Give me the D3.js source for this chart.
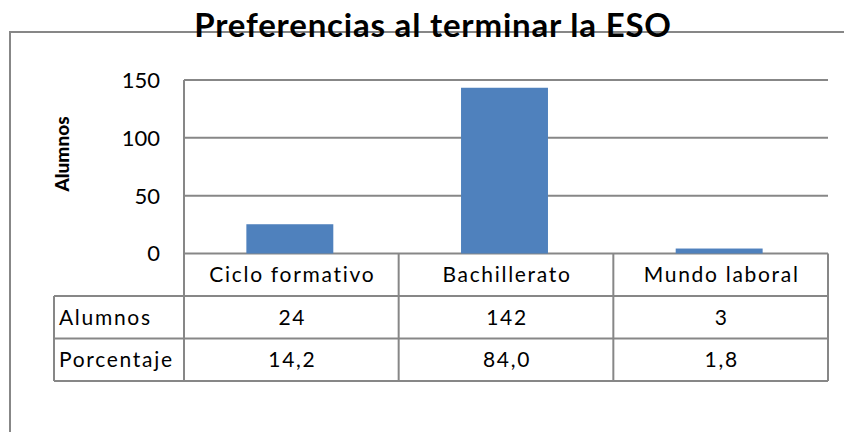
<!DOCTYPE html>
<html>
<head>
<meta charset="utf-8">
<script src="https://cdn.jsdelivr.net/npm/d3@7"></script>
<style>
  html, body { margin: 0; padding: 0; background: #fff; }
  text { font-family: Lato, "Open Sans", sans-serif; fill: #000; }
</style>
</head>
<body>
<svg id="chart" width="844" height="432"></svg>
<script>
"use strict";

// chart data
var categories = ["Ciclo formativo", "Bachillerato", "Mundo laboral"];
var alumnos = [24, 142, 3];
var porcentaje = ["14,2", "84,0", "1,8"];
var yTicks = [0, 50, 100, 150];
var rowLabels = ["Alumnos", "Porcentaje"];
var title = "Preferencias al terminar la ESO";

var svg = d3.select("#chart");
var gray = "#878787";

var plot = {left: 184, right: 828, top: 80, bottom: 253.5};
var rowH = 42.5;
var tableLeft = 54;

var x = d3.scaleBand()
	.domain(categories)
	.range([plot.left, plot.right]);

var y = d3.scaleLinear()
	.domain([0, 150])
	.range([plot.bottom, plot.top]);

// outer chart frame (top and left edges only visible)
svg.append("path")
	.attr("d", "M10,432 V32 H844")
	.attr("fill", "none")
	.attr("stroke", gray)
	.attr("stroke-width", 2);

// gridlines
svg.append("g")
	.selectAll("line")
	.data(yTicks)
	.join("line")
	.attr("x1", plot.left)
	.attr("x2", plot.right)
	.attr("y1", d => y(d))
	.attr("y2", d => y(d))
	.attr("stroke", gray)
	.attr("stroke-width", 2);

// bars
var barW = x.bandwidth() * 0.405;
svg.append("g")
	.selectAll("rect")
	.data(alumnos)
	.join("rect")
	.attr("x", (d, i) => x(categories[i]) + x.bandwidth() / 2 - barW / 2 - 1.5)
	.attr("y", d => y(d) - 1.5)
	.attr("width", barW)
	.attr("height", d => y(0) - y(d) + 1.5)
	.attr("fill", "#4f81bd");

// y axis line
svg.append("line")
	.attr("x1", plot.left).attr("x2", plot.left)
	.attr("y1", plot.top).attr("y2", plot.bottom + rowH * 3)
	.attr("stroke", gray).attr("stroke-width", 2);

// y tick labels
svg.append("g")
	.selectAll("text")
	.data(yTicks)
	.join("text")
	.attr("x", 160)
	.attr("y", d => y(d))
	.attr("dy", "0.36em")
	.attr("text-anchor", "end")
	.style("font-size", "22px")
	.text(d => d);

// y axis title
svg.append("text")
	.attr("transform", "translate(69,154) rotate(-90)")
	.attr("text-anchor", "middle")
	.style("font-size", "19px")
	.style("font-weight", "900")
	.text("Alumnos");

// data table
var table = svg.append("g")
	.style("font-size", "21px")
	.style("letter-spacing", "1.7px");
var rowTop = [plot.bottom, plot.bottom + rowH, plot.bottom + rowH * 2, plot.bottom + rowH * 3];

// horizontal lines of table
table.selectAll("line.h")
	.data(rowTop.slice(1))
	.join("line")
	.attr("class", "h")
	.attr("x1", tableLeft)
	.attr("x2", plot.right)
	.attr("y1", d => d)
	.attr("y2", d => d)
	.attr("stroke", gray)
	.attr("stroke-width", 2);

// vertical lines of table
var colEdges = categories.map(c => x(c) + x.bandwidth());
table.selectAll("line.v")
	.data(colEdges)
	.join("line")
	.attr("class", "v")
	.attr("x1", d => d)
	.attr("x2", d => d)
	.attr("y1", plot.bottom)
	.attr("y2", rowTop[3])
	.attr("stroke", gray)
	.attr("stroke-width", 2);

table.append("line")
	.attr("x1", tableLeft).attr("x2", tableLeft)
	.attr("y1", rowTop[1]).attr("y2", rowTop[3])
	.attr("stroke", gray).attr("stroke-width", 2);

// category headers
table.selectAll("text.cat")
	.data(categories)
	.join("text")
	.attr("class", "cat")
	.attr("x", d => x(d) + x.bandwidth() / 2 + 1)
	.attr("y", (rowTop[0] + rowTop[1]) / 2)
	.attr("dy", "0.36em")
	.attr("text-anchor", "middle")
	.text(d => d);

// row labels
table.selectAll("text.row")
	.data(rowLabels)
	.join("text")
	.attr("class", "row")
	.attr("x", tableLeft + 5)
	.attr("y", (d, i) => (rowTop[i + 1] + rowTop[i + 2]) / 2)
	.attr("dy", "0.36em")
	.text(d => d);

// row values
[alumnos, porcentaje].forEach(function(vals, r) {
	table.append("g")
		.selectAll("text")
		.data(vals)
		.join("text")
		.attr("x", (d, i) => x(categories[i]) + x.bandwidth() / 2 + 1)
		.attr("y", (rowTop[r + 1] + rowTop[r + 2]) / 2)
		.attr("dy", "0.36em")
		.attr("text-anchor", "middle")
		.text(d => d);
});

// title over the frame
svg.append("text")
	.attr("x", 433)
	.attr("y", 37)
	.attr("text-anchor", "middle")
	.style("font-size", "33px")
	.style("font-weight", "bold")
	.style("letter-spacing", "0.8px")
	.text(title);
</script>
</body>
</html>
